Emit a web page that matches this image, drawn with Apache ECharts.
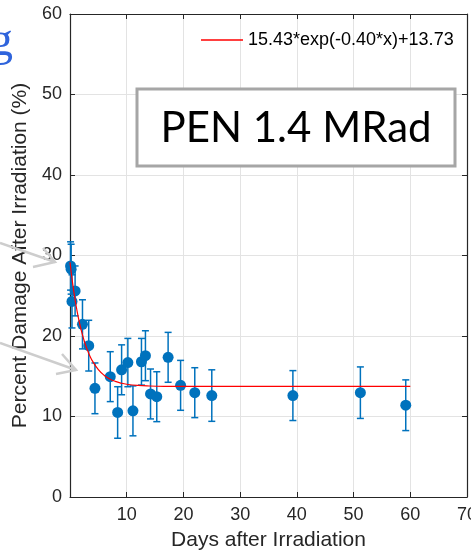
<!DOCTYPE html>
<html>
<head>
<meta charset="utf-8">
<script src="https://cdn.jsdelivr.net/npm/echarts@6/dist/echarts.min.js"></script>
<style>
html,body{margin:0;padding:0;background:#fff;}
#chart{width:471px;height:550px;}
</style>
</head>
<body>
<div id="chart"></div>
<script>
// ---- data ----
var days   = [0.1, 0.2, 0.35, 0.9, 2.2, 3.3, 4.4, 7.1, 8.4, 9.1, 10.2, 11.1, 12.6, 13.3, 14.2, 15.3, 17.3, 19.5, 22.0, 25.0, 39.3, 51.2, 59.2];
var damage = [28.7, 28.3, 24.3, 25.6, 21.45, 18.8, 13.5, 14.95, 10.5, 15.8, 16.7, 10.7, 16.8, 17.55, 12.8, 12.46, 17.35, 13.87, 12.96, 12.6, 12.6, 12.96, 11.4];
var errors = [3.0, 3.1, 3.3, 3.1, 3.05, 3.15, 3.15, 3.1, 3.2, 3.1, 3.0, 3.1, 2.9, 3.1, 3.1, 3.1, 3.1, 3.1, 3.1, 3.2, 3.1, 3.2, 3.15];
var fitDays   = [0, 0.5, 1, 1.5, 2, 2.5, 3, 3.5, 4, 5, 6, 7, 8, 9, 10, 12, 14, 17, 20, 25, 30, 40, 50, 60];
var fitDamage = [29.16, 26.36, 24.07, 22.20, 20.66, 19.41, 18.38, 17.53, 16.85, 15.82, 15.13, 14.67, 14.36, 14.15, 14.01, 13.86, 13.79, 13.75, 13.74, 13.73, 13.73, 13.73, 13.73, 13.73];
var fitName = '15.43*exp(-0.40*x)+13.73';
var xTicks = [0, 10, 20, 30, 40, 50, 60, 70];
var yTicks = [0, 10, 20, 30, 40, 50, 60];
var xTitle = 'Days after Irradiation';
var yTitle = 'Percent Damage After Irradiation (%)';
var boxText = 'PEN 1.4 MRad';

var points = days.map(function(d, i){ return [d, damage[i]]; });
var errData = days.map(function(d, i){ return [d, damage[i] - errors[i], damage[i] + errors[i]]; });
var fitData = fitDays.map(function(d, i){ return [d, fitDamage[i]]; });

var axisColor = '#262626';
var blue = '#0072BD';
var font = 'Liberation Sans, Arial, Helvetica, sans-serif';

var chart = echarts.init(document.getElementById('chart'), null, {renderer:'canvas'});

function baseX(pos, showLabel){
  return {
    type:'value', position:pos, min:xTicks[0], max:xTicks[xTicks.length-1], interval:10,
    axisLine:{show:true, onZero:false, lineStyle:{color:axisColor, width:1.2}},
    axisTick:{show:true, inside:true, length:5, lineStyle:{color:axisColor}},
    axisLabel:{show:showLabel, color:axisColor, fontSize:18, fontFamily:font, margin:9,
      alignMaxLabel:'center', alignMinLabel:'center',
      formatter:function(v){ return v === 0 ? '' : String(v); }},
    splitLine:{show:showLabel, lineStyle:{color:'#e3e3e3', width:1}}
  };
}
function baseY(pos, showLabel){
  return {
    type:'value', position:pos, min:yTicks[0], max:yTicks[yTicks.length-1], interval:10,
    axisLine:{show:true, onZero:false, lineStyle:{color:axisColor, width:1.2}},
    axisTick:{show:true, inside:true, length:5, lineStyle:{color:axisColor}},
    axisLabel:{show:showLabel, color:axisColor, fontSize:18, fontFamily:font, margin:8},
    splitLine:{show:showLabel, lineStyle:{color:'#e3e3e3', width:1}}
  };
}

var xa = baseX('bottom', true);
xa.name = xTitle; xa.nameLocation = 'middle'; xa.nameGap = 33;
xa.nameTextStyle = {color:axisColor, fontSize:21, fontFamily:font};
var ya = baseY('left', true);
ya.name = yTitle; ya.nameLocation = 'middle'; ya.nameGap = 30;
ya.nameTextStyle = {color:axisColor, fontSize:21, fontFamily:font};

var option = {
  animation:false,
  backgroundColor:'#ffffff',
  grid:{left:70, right:4, top:14, bottom:53, containLabel:false, outerBoundsMode:'none'},
  xAxis:[xa, baseX('top', false)],
  yAxis:[ya, baseY('right', false)],
  legend:{
    data:[{name:fitName, icon:'rect'}],
    left:201, top:31, padding:0, itemWidth:42, itemHeight:1.5, itemGap:5,
    textStyle:{color:'#000', fontSize:18, fontFamily:font, padding:[0,0,0,0]},
    selectedMode:false
  },
  graphic:[
    {type:'rect', shape:{x:137, y:89, width:318, height:77}, style:{fill:'#fff', stroke:'#a6a6a6', lineWidth:3}, z:50},
    {type:'text', x:296, y:128, style:{text:boxText, fill:'#000', font:'42px Lato, "Open Sans", sans-serif', textAlign:'center', textVerticalAlign:'middle'}, z:51},
    {type:'text', x:-11, y:18, style:{text:'g', fill:'#2f64dc', font:'48px "Liberation Serif", "DejaVu Serif", serif', textAlign:'left', textVerticalAlign:'alphabetic'}, z:60},
    {type:'polyline', shape:{points:[[0,243],[55,262]]}, style:{stroke:'#cdcdcd', lineWidth:2.5}, z:60},
    {type:'polyline', shape:{points:[[33,267],[55,262],[43,248]]}, style:{stroke:'#cdcdcd', lineWidth:2.5, fill:null}, z:60},
    {type:'polyline', shape:{points:[[0,343],[76,370]]}, style:{stroke:'#cdcdcd', lineWidth:2.5}, z:60},
    {type:'polyline', shape:{points:[[56,374],[76,370],[62,354]]}, style:{stroke:'#cdcdcd', lineWidth:2.5, fill:null}, z:60}
  ],
  series:[
    {
      type:'custom', name:'err', xAxisIndex:0, yAxisIndex:0, data:errData, z:3,
      renderItem:function(params, api){
        var x = api.value(0);
        var lo = api.coord([x, api.value(1)]);
        var hi = api.coord([x, api.value(2)]);
        var cw = 3.5;
        var st = {stroke:blue, lineWidth:1.5, fill:null};
        return {type:'group', children:[
          {type:'line', shape:{x1:lo[0], y1:lo[1], x2:hi[0], y2:hi[1]}, style:st},
          {type:'line', shape:{x1:lo[0]-cw, y1:lo[1], x2:lo[0]+cw, y2:lo[1]}, style:st},
          {type:'line', shape:{x1:hi[0]-cw, y1:hi[1], x2:hi[0]+cw, y2:hi[1]}, style:st}
        ]};
      },
      encode:{x:0, y:[1,2]}
    },
    {
      type:'scatter', name:'data', data:points, symbol:'circle', symbolSize:11, z:4,
      itemStyle:{color:blue, opacity:1}
    },
    {
      type:'line', name:fitName, data:fitData, smooth:true, showSymbol:false, symbol:'none', z:5,
      lineStyle:{color:'#ff0000', width:1.2}, itemStyle:{color:'#ff0000'}
    }
  ]
};
chart.setOption(option);
</script>
</body>
</html>
